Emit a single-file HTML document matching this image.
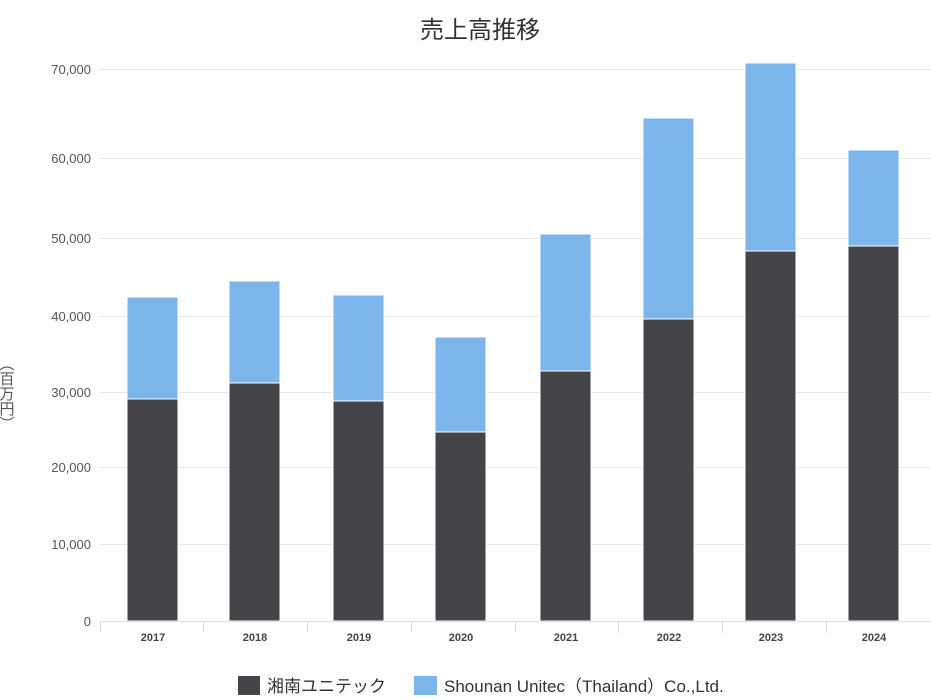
<!DOCTYPE html>
<html><head><meta charset="utf-8"><style>
body{margin:0;background:#fff;}
svg text{font-family:"Liberation Sans","Noto Sans CJK JP",sans-serif;}
</style></head><body>
<svg width="931" height="695" xmlns="http://www.w3.org/2000/svg">
<rect width="931" height="695" fill="#fff"/>
<text x="480" y="38" font-size="24" fill="#333" text-anchor="middle">売上高推移</text>
<g stroke="#e6e6e6" stroke-width="1">
<line x1="100" x2="931" y1="69.5" y2="69.5"/>
<line x1="100" x2="931" y1="158.5" y2="158.5"/>
<line x1="100" x2="931" y1="238.5" y2="238.5"/>
<line x1="100" x2="931" y1="316.5" y2="316.5"/>
<line x1="100" x2="931" y1="392.5" y2="392.5"/>
<line x1="100" x2="931" y1="467.5" y2="467.5"/>
<line x1="100" x2="931" y1="544.5" y2="544.5"/>
</g>
<g font-size="13" fill="#555" text-anchor="end">
<text x="91" y="74">70,000</text>
<text x="91" y="163">60,000</text>
<text x="91" y="243">50,000</text>
<text x="91" y="321">40,000</text>
<text x="91" y="397">30,000</text>
<text x="91" y="472">20,000</text>
<text x="91" y="549">10,000</text>
<text x="91" y="626">0</text>
</g>
<text x="7" y="356" font-size="15" fill="#555" letter-spacing="0" style="writing-mode:vertical-rl;font-family:'Noto Sans CJK JP',sans-serif">（百万円）</text>
<g fill="#7cb5ec" stroke="#fff" stroke-width="1">
<rect x="127" y="297" width="51" height="102"/>
<rect x="229" y="281" width="51" height="102"/>
<rect x="333" y="295" width="51" height="106"/>
<rect x="435" y="337" width="51" height="95"/>
<rect x="540" y="234" width="51" height="137"/>
<rect x="643" y="118" width="51" height="201"/>
<rect x="745" y="63" width="51" height="188"/>
<rect x="848" y="150" width="51" height="96"/>
</g>
<g fill="#454449" stroke="#fff" stroke-width="1">
<rect x="127" y="399" width="51" height="222"/>
<rect x="229" y="383" width="51" height="238"/>
<rect x="333" y="401" width="51" height="220"/>
<rect x="435" y="432" width="51" height="189"/>
<rect x="540" y="371" width="51" height="250"/>
<rect x="643" y="319" width="51" height="302"/>
<rect x="745" y="251" width="51" height="370"/>
<rect x="848" y="246" width="51" height="375"/>
</g>
<g stroke="#ddd" stroke-width="1">
<line x1="100" x2="931" y1="621.5" y2="621.5"/>
<line x1="100.5" x2="100.5" y1="621" y2="633"/>
<line x1="203.5" x2="203.5" y1="621" y2="633"/>
<line x1="307.5" x2="307.5" y1="621" y2="633"/>
<line x1="411.5" x2="411.5" y1="621" y2="633"/>
<line x1="515.5" x2="515.5" y1="621" y2="633"/>
<line x1="618.5" x2="618.5" y1="621" y2="633"/>
<line x1="722.5" x2="722.5" y1="621" y2="633"/>
<line x1="826.5" x2="826.5" y1="621" y2="633"/>
</g>
<g font-size="11" fill="#444" text-anchor="middle" font-weight="bold">
<text x="153" y="641">2017</text>
<text x="255" y="641">2018</text>
<text x="359" y="641">2019</text>
<text x="461" y="641">2020</text>
<text x="566" y="641">2021</text>
<text x="669" y="641">2022</text>
<text x="771" y="641">2023</text>
<text x="874" y="641">2024</text>
</g>
<rect x="238" y="676" width="22" height="19" fill="#454449"/>
<text x="267" y="692" font-size="17" fill="#333">湘南ユニテック</text>
<rect x="414" y="676" width="23" height="19" fill="#7cb5ec"/>
<text x="444" y="692" font-size="17" fill="#333">Shounan Unitec（Thailand）Co.,Ltd.</text>
</svg>
</body></html>
